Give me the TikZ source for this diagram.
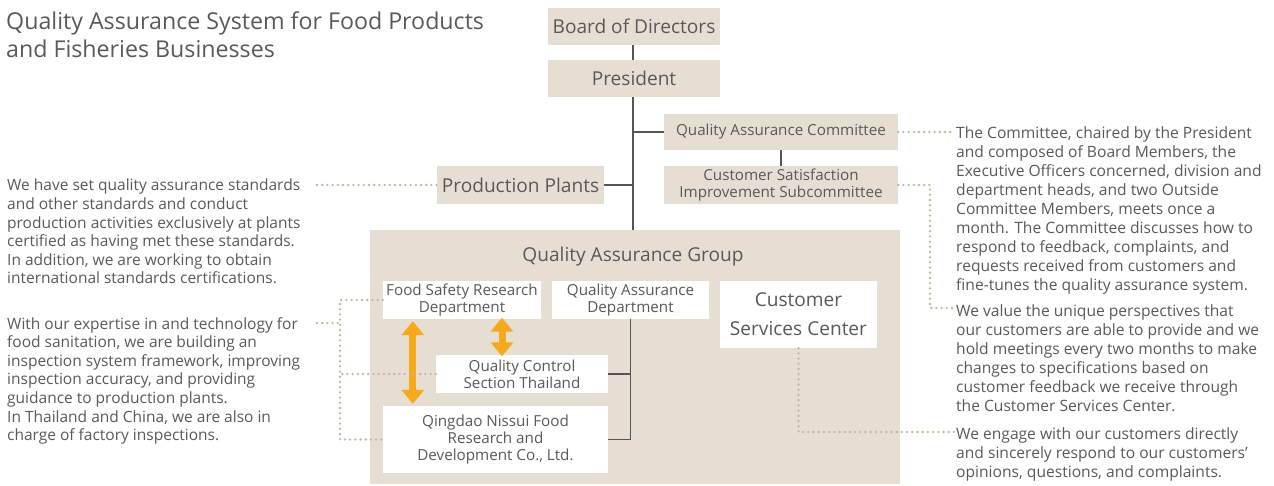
\documentclass[tikz,border=0pt]{standalone}
\usepackage{fontspec}
\setmainfont{Open Sans}
\usetikzlibrary{arrows.meta}
\definecolor{beige}{HTML}{E6DED3}
\definecolor{txtgray}{HTML}{595959}
\definecolor{linegray}{HTML}{555555}
\definecolor{dotcol}{HTML}{C8B59C}
\definecolor{orng}{HTML}{F6A91B}
\tikzset{
  every node/.style={text=txtgray, inner sep=0pt},
  orgbox/.style={fill=beige, align=center},
  whitebox/.style={fill=white, align=center},
  bigfont/.style={font=\fontsize{19.1}{22}\selectfont},
  smallfont/.style={font=\fontsize{15.2}{17}\selectfont},
  para/.style={align=left, anchor=north west, font=\fontsize{15.5}{18.6}\selectfont},
  rpara/.style={align=left, anchor=north west, font=\fontsize{15.6}{19.1}\selectfont},
  trunk/.style={draw=linegray, line width=1.6pt},
  dots/.style={draw=dotcol, line width=2.6pt, dash pattern=on 0pt off 5.2pt, line cap=round},
  oarrow/.style={draw=orng, line width=7pt,
    {Triangle[width=22pt,length=14pt]}-{Triangle[width=22pt,length=14pt]}},
}
\begin{document}
\begin{tikzpicture}[x=1pt,y=-1pt]
\useasboundingbox (0,0) rectangle (1274,486);

% title
\node[anchor=north west, align=left, font=\fontsize{23.2}{28}\selectfont] (title) at (6,11.5)
  {Quality Assurance System for Food Products\\and Fisheries Businesses};

% management chain
\node[orgbox, bigfont, minimum width=172pt, minimum height=37pt] (bod) at (634,26.5) {Board of Directors};
\node[orgbox, bigfont, minimum width=172pt, minimum height=37pt] (pres) at (634,78.5) {President};
\node[orgbox, smallfont, minimum width=234pt, minimum height=36pt] (qac) at (781,132) {Quality Assurance Committee};
\node[orgbox, smallfont, minimum width=234pt, minimum height=38pt] (csis) at (781,185)
  {Customer Satisfaction\\Improvement Subcommittee};
\node[orgbox, bigfont, minimum width=167pt, minimum height=38pt] (pp) at (520.5,185) {Production Plants};

% quality assurance group
\node[fill=beige, minimum width=530pt, minimum height=254pt] (qag) at (635,357) {};
\node[bigfont] (qagt) at (633,257) {Quality Assurance Group};
\node[whitebox, smallfont, minimum width=158pt, minimum height=38pt] (fsrd) at (462,300)
  {Food Safety Research\\Department};
\node[whitebox, smallfont, minimum width=157pt, minimum height=38pt] (qad) at (630.5,300)
  {Quality Assurance\\Department};
\node[whitebox, bigfont, minimum width=157pt, minimum height=67pt] (csc) at (798.5,314.5)
  {Customer\\[7pt]Services Center};
\node[whitebox, smallfont, minimum width=172pt, minimum height=38pt] (qcst) at (522,374)
  {Quality Control\\Section Thailand};
\node[whitebox, smallfont, minimum width=225pt, minimum height=67pt] (qing) at (495.5,439.5)
  {Qingdao Nissui Food\\Research and\\Development Co., Ltd.};

% solid reporting lines
\coordinate (tx) at (633,0);
\draw[trunk] (bod.south -| tx) -- (pres.north -| tx);
\draw[trunk] (pres.south -| tx) -- (qag.north -| tx);
\draw[trunk] (qac.west -| tx) -- (qac.west);
\draw[trunk] (pp.east) -- (pp.east -| tx);
\draw[trunk] (qac.south) -- (csis.north);
\draw[trunk] (qad.south) -- (qad.south |- qing.east);
\draw[trunk] (qing.east) -- (qad.south |- qing.east);
\draw[trunk] (qcst.east) -- (qad.south |- qcst.east);

% cooperation arrows
\draw[oarrow, shorten <=2pt, shorten >=2pt] ([xshift=30pt]fsrd.south west) -- ([xshift=30pt]qing.north west);
\draw[oarrow] ([xshift=40pt,yshift=1.5pt]fsrd.south) -- ([xshift=40pt,yshift=-1.5pt]fsrd.south |- qcst.north);

% left descriptions
\node[para] (ltxt1) at (7,179)
  {We have set quality assurance standards\\
   and other standards and conduct\\
   production activities exclusively at plants\\
   certified as having met these standards.\\
   In addition, we are working to obtain\\
   international standards certifications.};
\node[para] (ltxt2) at (7,317)
  {With our expertise in and technology for\\
   food sanitation, we are building an\\
   inspection system framework, improving\\
   inspection accuracy, and providing\\
   guidance to production plants.\\
   In Thailand and China, we are also in\\
   charge of factory inspections.};

% right descriptions
\node[rpara] (rtxt1) at (956,126)
  {The Committee, chaired by the President\\
   and composed of Board Members, the\\
   Executive Officers concerned, division and\\
   department heads, and two Outside\\
   Committee Members, meets once a\\
   month. The Committee discusses how to\\
   respond to feedback, complaints, and\\
   requests received from customers and\\
   fine-tunes the quality assurance system.};
\node[rpara] (rtxt2) at (956,304)
  {We value the unique perspectives that\\
   our customers are able to provide and we\\
   hold meetings every two months to make\\
   changes to specifications based on\\
   customer feedback we receive through\\
   the Customer Services Center.};
\node[rpara] (rtxt3) at (956,427)
  {We engage with our customers directly\\
   and sincerely respond to our customers’\\
   opinions, questions, and complaints.};

% dotted leaders
\coordinate (d1) at (317,185);
\coordinate (d2) at (317,323);
\coordinate (lbus) at (340,0);
\coordinate (rbus) at (930,0);
\coordinate (r1) at (954,132);
\coordinate (r2) at (954,308);
\coordinate (r3) at (954,432);
\draw[dots] (d1) -- (pp.west);
\draw[dots] (d2) -- (d2 -| lbus);
\draw[dots] (fsrd.west) -- (fsrd.west -| lbus) -- (qing.west -| lbus) -- (qing.west);
\draw[dots] (qcst.west) -- (qcst.west -| lbus);
\draw[dots] (qac.east) -- (r1);
\draw[dots] (csis.east) -- (csis.east -| rbus) -- (r2 -| rbus) -- (r2);
\draw[dots] (csc.south) -- (csc.south |- r3) -- (r3);
\end{tikzpicture}
\end{document}
